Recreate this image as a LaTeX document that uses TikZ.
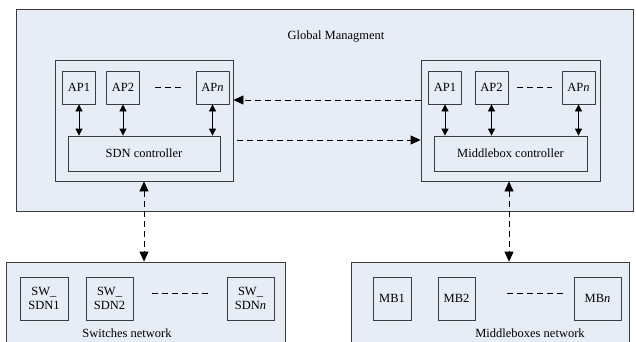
\documentclass[tikz,border=0pt]{standalone}
\usepackage{fontspec}
\setmainfont{Liberation Serif}
\usetikzlibrary{arrows.meta}
\definecolor{bgblue}{RGB}{231,237,247}
\definecolor{linecol}{RGB}{60,60,60}
\begin{document}
\begin{tikzpicture}[
    x=1pt, y=-1pt,
    box/.style={draw=linecol, fill=bgblue, line width=0.8pt, inner sep=0pt, align=center,
        font=\fontsize{12.5}{14}\selectfont},
    ap/.style={box, minimum width=33pt, minimum height=33pt},
    dev/.style={box, minimum height=43pt},
    lbl/.style={font=\fontsize{12.5}{14}\selectfont, inner sep=0pt},
    link/.style={line width=0.8pt, {Triangle[length=7pt,width=7pt]}-{Triangle[length=7pt,width=7pt]}},
    dlink/.style={line width=0.8pt, dash pattern=on 6pt off 4pt},
    tip/.style={-{Triangle[length=10pt,width=9pt]}},
    tips/.style={{Triangle[length=10pt,width=9pt]}-{Triangle[length=10pt,width=9pt]}}
]
\useasboundingbox (0,0) rectangle (636,342);
\clip (0,0) rectangle (636,342);
% global management
\node[box, minimum width=617pt, minimum height=201.5pt] (global) at (324.5,110.25) {};
\node[lbl] (gtitle) at (336,37) {Global Managment};
% SDN side
\node[box, minimum width=178pt, minimum height=121pt] (lbox) at (144,120.5) {};
\node[ap] (lap1) at (79,87.5) {AP1};
\node[ap] (lap2) at (123,87.5) {AP2};
\node[ap] (lapn) at (212.5,87.5) {AP\textit{n}};
\node[box, minimum width=152pt, minimum height=35pt] (sdn) at (144,153.5) {SDN controller};
% middlebox side
\node[box, minimum width=179pt, minimum height=121pt] (rbox) at (510.5,120.5) {};
\node[ap] (rap1) at (445,87.5) {AP1};
\node[ap] (rap2) at (491.5,87.5) {AP2};
\node[ap] (rapn) at (578.5,87.5) {AP\textit{n}};
\node[box, minimum width=153pt, minimum height=35pt] (mbc) at (510.5,153.5) {Middlebox controller};
% networks
\node[box, minimum width=279pt, minimum height=98pt] (swnet) at (145.5,311) {};
\node[dev, minimum width=48pt] (sw1) at (44,298.5) {SW\_\\SDN1};
\node[dev, minimum width=47pt] (sw2) at (109.5,298.5) {SW\_\\SDN2};
\node[dev, minimum width=47pt] (swn) at (250.5,298.5) {SW\_\\SDN\textit{n}};
\node[lbl] (swlbl) at (127,333) {Switches network};
\node[box, minimum width=278pt, minimum height=98pt] (mbnet) at (490,311) {};
\node[dev, minimum width=38pt] (mb1) at (392,298.5) {MB1};
\node[dev, minimum width=37pt] (mb2) at (456.5,298.5) {MB2};
\node[dev, minimum width=47pt] (mbn) at (597.5,298.5) {MB\textit{n}};
\node[lbl] (mblbl) at (530,333) {Middleboxes network};
% AP <-> controller
\foreach \a in {lap1,lap2,lapn}
    \draw[link] (\a.south) -- (\a.south |- sdn.north);
\foreach \a in {rap1,rap2,rapn}
    \draw[link] (\a.south) -- (\a.south |- mbc.north);
% dots between boxes
\draw[dlink] ([xshift=15pt]lap2.east) -- ([xshift=-11pt]lapn.west);
\draw[dlink] ([xshift=9pt]rap2.east) -- ([xshift=-10pt]rapn.west);
\draw[dlink] ([xshift=19pt,yshift=5.5pt]sw2.east) -- ([xshift=-19pt,yshift=5.5pt]swn.west);
\draw[dlink] ([xshift=32pt,yshift=5.5pt]mb2.east) -- ([xshift=-10pt,yshift=5.5pt]mbn.west);
% controller <-> controller
\draw[dlink, tip] ([yshift=20.5pt]rbox.west) -- ([yshift=20.5pt]lbox.east);
\draw[dlink, tip] ([xshift=4pt,yshift=-19.5pt]lbox.east) -- ([yshift=-19.5pt]rbox.west);
% controller <-> network
\draw[dlink, tips] (lbox.south) -- (lbox.south |- swnet.north);
\draw[dlink, tips] ([xshift=-1.5pt]rbox.south) -- ([xshift=-1.5pt]rbox.south |- mbnet.north);
\end{tikzpicture}
\end{document}
